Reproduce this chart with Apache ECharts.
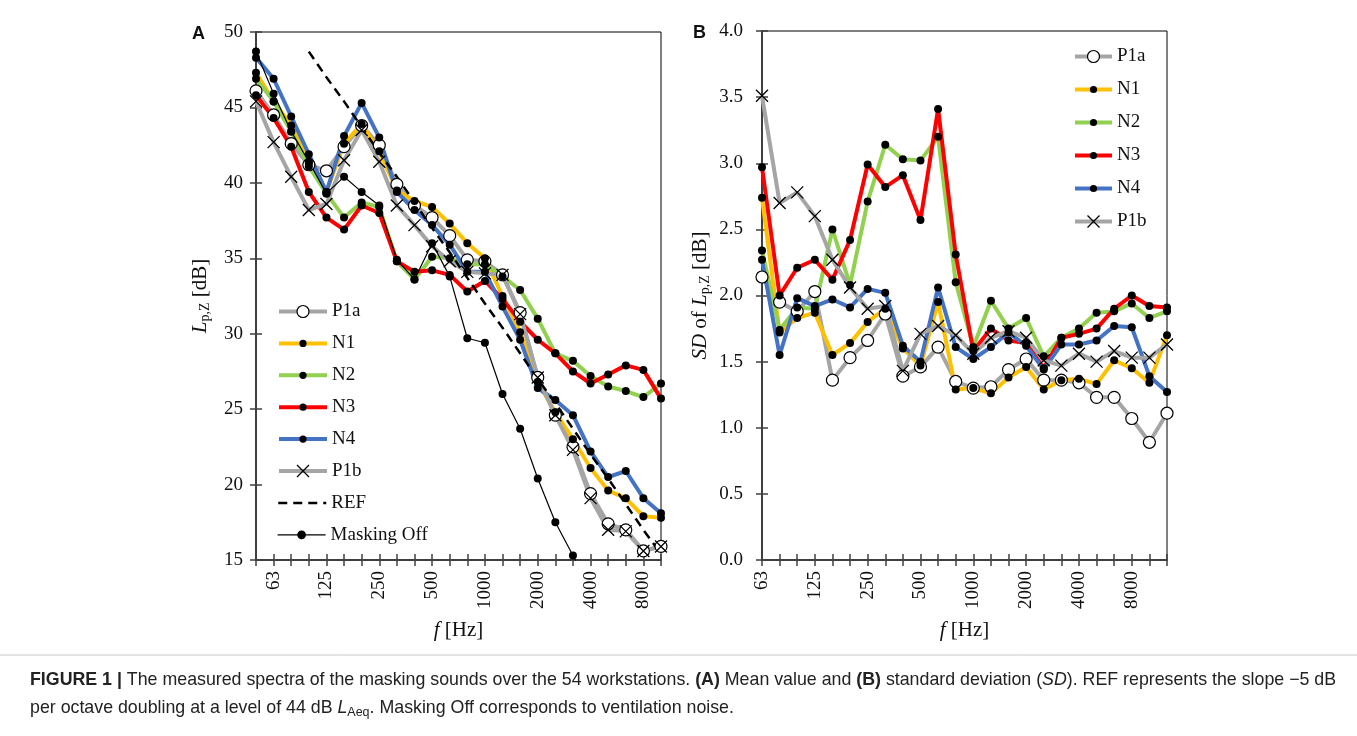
<!DOCTYPE html>
<html>
<head>
<meta charset="utf-8">
<script src="https://cdn.jsdelivr.net/npm/echarts@6/dist/echarts.min.js"></script>
<style>
  html, body { margin: 0; padding: 0; background: #fff; }
  #chart { width: 1357px; height: 736px; }
</style>
</head>
<body>
<div id="chart"></div>
<script>
// 1/3-octave band centre frequencies (Hz)
const bandsA = ['50','63','80','100','125','160','200','250','315','400','500','630','800','1000','1250','1600','2000','2500','3150','4000','5000','6300','8000','10000'];
const bandsB = ['63','80','100','125','160','200','250','315','400','500','630','800','1000','1250','1600','2000','2500','3150','4000','5000','6300','8000','10000','12500'];

// Panel A: mean Lp,Z [dB]
const meanP1a = [46.1,44.5,42.6,41.2,40.8,42.4,43.8,42.5,39.9,38.5,37.7,36.5,34.9,34.8,33.9,31.4,27.1,24.6,22.5,19.4,17.4,17.0,15.6,15.9];
const meanN1  = [47.3,45.4,43.8,41.3,39.4,42.6,43.9,42.1,39.5,38.8,38.4,37.3,36.0,35.0,32.5,30.1,26.8,24.8,23.0,21.1,19.6,19.1,17.9,17.8];
const meanN2  = [46.9,45.4,43.4,41.1,39.3,37.7,38.7,38.4,34.8,33.6,35.1,35.0,34.6,34.6,33.8,32.9,31.0,28.7,28.2,27.2,26.5,26.2,25.8,26.7];
const meanN3  = [45.8,44.3,42.4,39.4,37.7,36.9,38.5,38.0,34.8,34.1,34.2,33.9,32.8,33.5,32.3,30.8,29.6,28.7,27.5,26.7,27.3,27.9,27.6,25.7];
const meanN4  = [48.3,46.9,44.4,41.9,39.4,43.1,45.3,43.0,39.4,38.2,37.2,35.9,34.1,34.1,31.8,29.6,26.4,25.6,24.6,22.2,20.5,20.9,19.1,18.1];
const meanP1b = [45.4,42.7,40.4,38.2,38.6,41.5,43.5,41.4,38.5,37.2,35.8,34.8,34.1,34.0,33.9,31.3,27.1,24.6,22.3,19.1,17.0,16.9,15.6,15.9];
const meanRef = [null,null,null,48.7,47.0,45.4,43.7,42.0,40.4,38.7,37.0,35.4,33.7,32.0,30.4,28.7,27.0,25.4,23.7,22.0,20.4,18.7,17.0,15.4];
const meanOff = [48.7,45.9,43.4,41.4,39.3,40.4,39.4,38.5,34.9,33.6,36.0,33.8,29.7,29.4,26.0,23.7,20.4,17.5,15.3,13.0,null,null,null,null];

// Panel B: SD of Lp,Z [dB]
const sdP1a = [2.14,1.95,1.88,2.03,1.36,1.53,1.66,1.86,1.39,1.46,1.61,1.35,1.30,1.31,1.44,1.52,1.36,1.36,1.34,1.23,1.23,1.07,0.89,1.11];
const sdN1  = [2.74,1.72,1.83,1.87,1.55,1.64,1.80,1.90,1.60,1.47,1.95,1.29,1.30,1.26,1.38,1.46,1.29,1.36,1.37,1.33,1.51,1.45,1.34,1.70];
const sdN2  = [2.34,1.74,1.91,1.90,2.50,2.08,2.71,3.14,3.03,3.02,3.20,2.10,1.61,1.96,1.75,1.83,1.54,1.68,1.75,1.87,1.88,1.94,1.83,1.88];
const sdN3  = [2.97,2.00,2.21,2.27,2.12,2.42,2.99,2.82,2.91,2.57,3.41,2.31,1.58,1.75,1.66,1.64,1.45,1.68,1.71,1.75,1.90,2.00,1.92,1.91];
const sdN4  = [2.27,1.55,1.98,1.92,1.97,1.91,2.05,2.02,1.62,1.50,2.06,1.61,1.52,1.61,1.72,1.62,1.44,1.63,1.63,1.66,1.77,1.76,1.39,1.27];
const sdP1b = [3.51,2.70,2.78,2.60,2.27,2.06,1.90,1.92,1.43,1.71,1.77,1.70,1.56,1.68,1.73,1.68,1.51,1.47,1.56,1.50,1.58,1.53,1.53,1.63];

const SERIF = 'Liberation Serif';
const SANS = 'Liberation Sans';
const INK = '#111';
const AXIS = '#404040';
const CROSS = 'path://M0,0L10,10M10,0L0,10';

const chart = echarts.init(document.getElementById('chart'));

function curve(name, data, idx, color, mark) {
  const s = {
    name: name, type: 'line', data: data,
    xAxisIndex: idx, yAxisIndex: idx,
    symbol: 'circle', symbolSize: 8, showAllSymbol: true,
    lineStyle: { color: color, width: 4 },
    itemStyle: { color: '#000', borderColor: '#000', borderWidth: 0 },
    emphasis: { disabled: true },
    animation: false
  };
  if (mark === 'ring') {
    s.symbolSize = 12;
    s.itemStyle = { color: '#fff', borderColor: '#000', borderWidth: 1.2 };
  }
  if (mark === 'cross') {
    s.symbol = CROSS;
    s.symbolSize = 12;
    s.itemStyle = { color: '#000', borderColor: '#000', borderWidth: 1.3 };
  }
  return s;
}

function catAxis(grid, data, first, ticksOnly) {
  return {
    type: 'category', gridIndex: grid, data: data, boundaryGap: false, position: 'bottom',
    axisLine: { show: !ticksOnly, lineStyle: { color: AXIS, width: 2 } },
    axisTick: { show: true, interval: 0, inside: ticksOnly, length: 6, lineStyle: { color: AXIS, width: 1.5 } },
    axisLabel: {
      show: !ticksOnly, interval: function (i) { return i % 3 === first; }, rotate: 90, margin: 11,
      fontFamily: SERIF, fontSize: 19, color: INK
    },
    splitLine: { show: false },
    name: ticksOnly ? '' : '{i|f} [Hz]', nameLocation: 'middle', nameGap: 60,
    nameTextStyle: { fontFamily: SERIF, fontSize: 21, color: INK,
      rich: { i: { fontFamily: SERIF, fontSize: 21, fontStyle: 'italic', color: INK } } }
  };
}

function valAxis(grid, min, max, step, digits, name, gap, margin, ticksOnly) {
  return {
    type: 'value', gridIndex: grid, min: min, max: max, interval: step, position: 'left',
    axisLine: { show: !ticksOnly, lineStyle: { color: AXIS, width: 2 } },
    axisTick: { show: true, inside: ticksOnly, length: 6, lineStyle: { color: AXIS, width: 1.5 } },
    axisLabel: { show: !ticksOnly, margin: margin, fontFamily: SERIF, fontSize: 19, color: INK,
      formatter: function (v) { return v.toFixed(digits); } },
    splitLine: { show: false },
    name: ticksOnly ? '' : name, nameLocation: 'middle', nameGap: gap, nameRotate: 90,
    nameTextStyle: { fontFamily: SERIF, fontSize: 21, color: INK,
      rich: {
        i: { fontFamily: SERIF, fontSize: 21, fontStyle: 'italic', color: INK },
        s: { fontFamily: SERIF, fontSize: 14, color: INK, padding: [10, 0, 0, 0] }
      } }
  };
}

// one legend block per entry so each icon can have its own size
function legendItem(name, left, top, width, size) {
  return {
    data: [name], orient: 'vertical', left: left, top: top,
    itemWidth: width, itemHeight: size, selectedMode: false, padding: 0,
    itemStyle: { borderWidth: 'inherit' },
    lineStyle: { width: 'inherit' },
    textStyle: { fontFamily: SERIF, fontSize: 19, color: INK, lineHeight: 20 },
    formatter: function (n) { return n.trim(); }
  };
}

const legA = [['P1a', 15], ['N1', 9], ['N2', 9], ['N3', 9], ['N4', 9], ['P1b', 15], ['REF', 9], ['Masking Off', 11]];
const legB = [['P1a ', 15], ['N1 ', 9], ['N2 ', 9], ['N3 ', 9], ['N4 ', 9], ['P1b ', 15]];
const legends = [];
legA.forEach(function (d, k) { legends.push(legendItem(d[0], 277, 301.5 + k * 31.9, 48, d[1])); });
legB.forEach(function (d, k) { legends.push(legendItem(d[0], 1073, 46.5 + k * 33, 37, d[1])); });

const capRich = {
  b: { fontWeight: 'bold', fontFamily: SANS, fontSize: 17.8, fill: '#222' },
  i: { fontStyle: 'italic', fontFamily: SANS, fontSize: 17.8, fill: '#222' },
  s: { fontFamily: SANS, fontSize: 12.5, fill: '#222', padding: [9, 0, 0, 0] }
};

const option = {
  backgroundColor: '#fff',
  animation: false,
  grid: [
    { left: 256, top: 32, width: 405, height: 528, show: true, borderColor: '#000', borderWidth: 1, backgroundColor: 'transparent' },
    { left: 762, top: 31, width: 405, height: 529, show: true, borderColor: '#000', borderWidth: 1, backgroundColor: 'transparent' }
  ],
  xAxis: [
    catAxis(0, bandsA, 1, false),
    catAxis(0, bandsA, 1, true),
    catAxis(1, bandsB, 0, false),
    catAxis(1, bandsB, 0, true)
  ],
  yAxis: [
    valAxis(0, 15, 50, 5, 0, '{i|L}{s|p,Z} [dB]', 44, 13, false),
    valAxis(0, 15, 50, 5, 0, '', 44, 13, true),
    valAxis(1, 0, 4, 0.5, 1, '{i|SD} of {i|L}{s|p,Z} [dB]', 50, 19, false),
    valAxis(1, 0, 4, 0.5, 1, '', 50, 19, true)
  ],
  legend: legends,
  series: [
    curve('P1a', meanP1a, 0, '#A5A5A5', 'ring'),
    curve('N1', meanN1, 0, '#FFC000', 'dot'),
    curve('N2', meanN2, 0, '#92D050', 'dot'),
    curve('N3', meanN3, 0, '#FF0000', 'dot'),
    curve('N4', meanN4, 0, '#4472C4', 'dot'),
    curve('P1b', meanP1b, 0, '#A5A5A5', 'cross'),
    {
      name: 'REF', type: 'line', data: meanRef, xAxisIndex: 0, yAxisIndex: 0,
      symbol: 'circle', showSymbol: false, symbolSize: 0,
      lineStyle: { color: '#000', width: 2.5, type: [9, 6] },
      itemStyle: { color: 'rgba(0,0,0,0)', borderWidth: 0 },
      emphasis: { disabled: true }
    },
    {
      name: 'Masking Off', type: 'line', data: meanOff, xAxisIndex: 0, yAxisIndex: 0,
      symbol: 'circle', symbolSize: 8, showAllSymbol: true, clip: true,
      lineStyle: { color: '#000', width: 1.2 },
      itemStyle: { color: '#000' },
      emphasis: { disabled: true }
    },
    curve('P1a ', sdP1a, 2, '#A5A5A5', 'ring'),
    curve('N1 ', sdN1, 2, '#FFC000', 'dot'),
    curve('N2 ', sdN2, 2, '#92D050', 'dot'),
    curve('N3 ', sdN3, 2, '#FF0000', 'dot'),
    curve('N4 ', sdN4, 2, '#4472C4', 'dot'),
    curve('P1b ', sdP1b, 2, '#A5A5A5', 'cross')
  ],
  graphic: [
    { type: 'text', x: 192, y: 25, style: { text: 'A', font: 'bold 18px "Liberation Sans"', fill: INK } },
    { type: 'text', x: 693, y: 24, style: { text: 'B', font: 'bold 18px "Liberation Sans"', fill: INK } },
    { type: 'line', shape: { x1: 0, y1: 655, x2: 1357, y2: 655 }, style: { stroke: '#c8c8c8', lineWidth: 1 } },
    { type: 'text', x: 30, y: 671, style: {
      text: '{b|FIGURE 1 |} The measured spectra of the masking sounds over the 54 workstations. {b|(A)} Mean value and {b|(B)} standard deviation ({i|SD}). REF represents the slope \u22125 dB',
      font: '17.8px "Liberation Sans"', fill: '#222', rich: capRich } },
    { type: 'text', x: 30, y: 697, style: {
      text: 'per octave doubling at a level of 44 dB {i|L}{s|Aeq}. Masking Off corresponds to ventilation noise.',
      font: '17.8px "Liberation Sans"', fill: '#222', rich: capRich } }
  ]
};

chart.setOption(option);
</script>
</body>
</html>
